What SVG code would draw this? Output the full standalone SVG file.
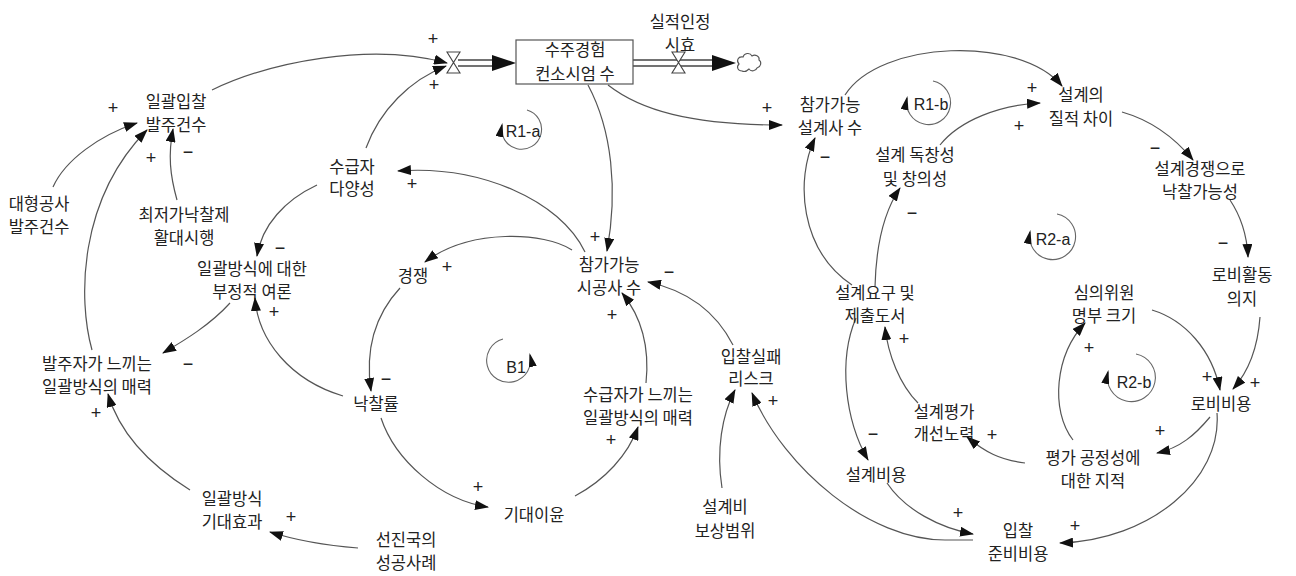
<svg xmlns="http://www.w3.org/2000/svg" width="1296" height="576" viewBox="0 0 1296 576">
<defs>
<style>
.t{font-family:"Noto Sans CJK KR","Noto Sans",sans-serif;font-size:16.5px;fill:#222;text-anchor:middle}
.p{font-family:"Liberation Sans",Arial,sans-serif;font-size:18px;fill:#222;text-anchor:middle}
.r{font-family:"Liberation Sans",Arial,sans-serif;font-size:16px;fill:#222;text-anchor:middle}
.c{fill:none;stroke:#555;stroke-width:1.2;marker-end:url(#ah)}
.lp{fill:none;stroke:#666;stroke-width:1.1;marker-end:url(#la)}
.pipe{stroke:#444;stroke-width:1.3}
.valve{fill:#fff;stroke:#444;stroke-width:1.1}
</style>
<marker id="ah" viewBox="0 0 14 10" markerWidth="14" markerHeight="10" refX="13" refY="5" orient="auto" markerUnits="userSpaceOnUse"><path d="M0,0 L14,5 L0,10 z" fill="#111"/></marker>
<marker id="la" viewBox="0 0 14 8" markerWidth="14" markerHeight="8" refX="12" refY="4" orient="auto" markerUnits="userSpaceOnUse"><path d="M0,0 L14,4 L0,8 z" fill="#111"/></marker>
</defs>
<rect width="1296" height="576" fill="#fff"/>

<g id="connectors">
<path class="c" d="M212,90 C270,62 370,42 447,63"/>
<path class="c" d="M366,148 C380,110 410,80 446,66"/>
<path class="c" d="M608,85 C640,110 690,125 782,125"/>
<path class="c" d="M588,85 C612,130 618,190 607,251"/>
<path class="c" d="M585,252 C560,200 480,165 398,171"/>
<path class="c" d="M572,250 C545,232 470,228 425,262"/>
<path class="c" d="M400,288 C375,315 365,350 371,391"/>
<path class="c" d="M343,396 C290,380 258,340 255,298"/>
<path class="c" d="M381,418 C395,460 440,500 488,507"/>
<path class="c" d="M575,496 C605,480 628,455 638,427"/>
<path class="c" d="M646,383 C650,345 640,315 622,293"/>
<path class="c" d="M733,345 C715,310 685,290 648,282"/>
<path class="c" d="M722,488 C716,450 722,415 735,390"/>
<path class="c" d="M973,540 L945,540 C870,540 785,470 752,393"/>
<path class="c" d="M317,185 C285,200 262,225 257,256"/>
<path class="c" d="M230,303 C210,325 185,340 163,353"/>
<path class="c" d="M92,350 C78,300 78,200 147,130"/>
<path class="c" d="M53,187 C65,160 100,135 137,123"/>
<path class="c" d="M177,200 C170,175 168,155 173,129"/>
<path class="c" d="M190,490 C150,465 120,435 108,394"/>
<path class="c" d="M358,548 C320,545 295,540 270,532"/>
<path class="c" d="M845,95 C880,40 1020,35 1062,86"/>
<path class="c" d="M940,145 C960,120 1000,105 1040,103"/>
<path class="c" d="M852,285 C800,250 795,180 815,138"/>
<path class="c" d="M875,287 C876,245 885,210 900,188"/>
<path class="c" d="M1122,112 C1150,120 1175,138 1193,160"/>
<path class="c" d="M1230,200 C1240,215 1247,235 1248,257"/>
<path class="c" d="M1260,317 C1258,345 1250,370 1233,389"/>
<path class="c" d="M1152,310 C1185,320 1212,350 1220,390"/>
<path class="c" d="M1210,417 C1195,435 1180,448 1157,453"/>
<path class="c" d="M1217,413 C1222,480 1150,540 1060,543"/>
<path class="c" d="M1073,440 C1050,410 1055,355 1085,323"/>
<path class="c" d="M1025,463 C1000,460 985,452 967,437"/>
<path class="c" d="M918,403 C900,385 888,355 885,327"/>
<path class="c" d="M856,318 C838,360 845,420 868,460"/>
<path class="c" d="M887,483 C905,510 940,528 973,534"/>
</g>

<g id="polarities">
<text class="p" x="113" y="114">+</text>
<text class="p" x="151" y="164">+</text>
<text class="p" x="188" y="158">−</text>
<text class="p" x="433" y="45">+</text>
<text class="p" x="434" y="91">+</text>
<text class="p" x="412" y="190">+</text>
<text class="p" x="280" y="254">−</text>
<text class="p" x="767" y="114">+</text>
<text class="p" x="595" y="243">+</text>
<text class="p" x="447" y="273">+</text>
<text class="p" x="669" y="278">−</text>
<text class="p" x="825" y="163">−</text>
<text class="p" x="1032" y="94">+</text>
<text class="p" x="1019" y="132">+</text>
<text class="p" x="912" y="219">−</text>
<text class="p" x="1155" y="154">−</text>
<text class="p" x="1223" y="249">−</text>
<text class="p" x="274" y="318">+</text>
<text class="p" x="188" y="370">−</text>
<text class="p" x="386" y="385">−</text>
<text class="p" x="96" y="419">+</text>
<text class="p" x="291" y="523">+</text>
<text class="p" x="612" y="321">+</text>
<text class="p" x="773" y="407">+</text>
<text class="p" x="611" y="446">+</text>
<text class="p" x="478" y="493">+</text>
<text class="p" x="904" y="345">+</text>
<text class="p" x="873" y="440">−</text>
<text class="p" x="992" y="441">+</text>
<text class="p" x="1089" y="354">+</text>
<text class="p" x="1160" y="437">+</text>
<text class="p" x="1207" y="383">+</text>
<text class="p" x="1255" y="389">+</text>
<text class="p" x="958" y="519">+</text>
<text class="p" x="1075" y="532">+</text>
</g>

<g id="loops">
<path class="lp" d="M527,110 A20,20 0 1 1 502,125"/>
<text class="r" x="523" y="137">R1-a</text>
<path class="lp" d="M503,339 A22,22 0 1 0 530,355"/>
<text class="r" x="516" y="373">B1</text>
<path class="lp" d="M933,81 A22,22 0 1 1 907,98"/>
<text class="r" x="931" y="110">R1-b</text>
<path class="lp" d="M1057,214 A23,23 0 1 1 1030,232"/>
<text class="r" x="1053" y="245">R2-a</text>
<path class="lp" d="M1136,354 A24,24 0 1 1 1108,372"/>
<text class="r" x="1134" y="388">R2-b</text>
</g>

<g id="flow-in">
<line class="pipe" x1="458" y1="60" x2="496" y2="60"/>
<line class="pipe" x1="458" y1="66" x2="496" y2="66"/>
<polygon points="492,55 516,63 492,71" fill="#111"/>
<path class="valve" d="M447,52 H460 L447,73 H460 Z"/>
</g>

<g id="flow-out">
<line class="pipe" x1="633" y1="60" x2="716" y2="60"/>
<line class="pipe" x1="633" y1="66" x2="716" y2="66"/>
<polygon points="712,55 736,63 712,71" fill="#111"/>
<path class="valve" d="M672,52 H685 L672,73 H685 Z"/>
<path d="M742,71 c-4,0 -6,-4 -3,-7 c-3,-3 -1,-8 4,-7 c1,-4 7,-5 9,-1 c3,-2 8,0 7,4 c3,2 2,7 -2,8 c-1,3 -6,4 -8,1 c-2,2 -5,3 -7,2 z" fill="#fff" stroke="#555" stroke-width="1.1"/>
</g>

<g id="n-stock">
<rect x="516" y="40" width="117" height="44" fill="none" stroke="#555" stroke-width="1.2"/>
<text class="t" x="575" y="56">수주경험</text>
<text class="t" x="575" y="80">컨소시엄 수</text>
</g>
<g id="n-outflow"><text class="t" x="680" y="28">실적인정</text><text class="t" x="680" y="51">시효</text></g>
<g id="n-bulk-orders"><text class="t" x="176" y="108">일괄입찰</text><text class="t" x="176" y="131">발주건수</text></g>
<g id="n-large-orders"><text class="t" x="39" y="210">대형공사</text><text class="t" x="39" y="233">발주건수</text></g>
<g id="n-lowest-price"><text class="t" x="184" y="221">최저가낙찰제</text><text class="t" x="184" y="244">활대시행</text></g>
<g id="n-diversity"><text class="t" x="352" y="173">수급자</text><text class="t" x="352" y="195">다양성</text></g>
<g id="n-negative"><text class="t" x="252" y="275">일괄방식에 대한</text><text class="t" x="252" y="298">부정적 여론</text></g>
<g id="n-competition"><text class="t" x="413" y="282">경쟁</text></g>
<g id="n-contractors"><text class="t" x="609" y="271">참가가능</text><text class="t" x="609" y="294">시공사 수</text></g>
<g id="n-designers"><text class="t" x="830" y="111">참가가능</text><text class="t" x="830" y="134">설계사 수</text></g>
<g id="n-quality"><text class="t" x="1081" y="101">설계의</text><text class="t" x="1081" y="125">질적 차이</text></g>
<g id="n-originality"><text class="t" x="915" y="161">설계 독창성</text><text class="t" x="915" y="185">및 창의성</text></g>
<g id="n-win-chance"><text class="t" x="1200" y="175">설계경쟁으로</text><text class="t" x="1200" y="198">낙찰가능성</text></g>
<g id="n-lobby-will"><text class="t" x="1242" y="281">로비활동</text><text class="t" x="1242" y="305">의지</text></g>
<g id="n-requirements"><text class="t" x="875" y="299">설계요구 및</text><text class="t" x="875" y="322">제출도서</text></g>
<g id="n-committee"><text class="t" x="1104" y="299">심의위원</text><text class="t" x="1104" y="322">명부 크기</text></g>
<g id="n-lobby-cost"><text class="t" x="1221" y="410">로비비용</text></g>
<g id="n-eval-effort"><text class="t" x="944" y="418">설계평가</text><text class="t" x="944" y="440">개선노력</text></g>
<g id="n-fairness"><text class="t" x="1093" y="464">평가 공정성에</text><text class="t" x="1093" y="487">대한 지적</text></g>
<g id="n-design-cost"><text class="t" x="876" y="481">설계비용</text></g>
<g id="n-prep-cost"><text class="t" x="1018" y="537">입찰</text><text class="t" x="1018" y="560">준비비용</text></g>
<g id="n-fail-risk"><text class="t" x="751" y="363">입찰실패</text><text class="t" x="751" y="385">리스크</text></g>
<g id="n-contractor-appeal"><text class="t" x="638" y="401">수급자가 느끼는</text><text class="t" x="638" y="424">일괄방식의 매력</text></g>
<g id="n-profit"><text class="t" x="534" y="521">기대이윤</text></g>
<g id="n-compensation"><text class="t" x="725" y="513">설계비</text><text class="t" x="725" y="537">보상범위</text></g>
<g id="n-cases"><text class="t" x="406" y="546">선진국의</text><text class="t" x="406" y="569">성공사례</text></g>
<g id="n-effect"><text class="t" x="232" y="505">일괄방식</text><text class="t" x="232" y="528">기대효과</text></g>
<g id="n-owner-appeal"><text class="t" x="97" y="370">발주자가 느끼는</text><text class="t" x="97" y="393">일괄방식의 매력</text></g>
<g id="n-bid-rate"><text class="t" x="376" y="410">낙찰률</text></g>
</svg>
